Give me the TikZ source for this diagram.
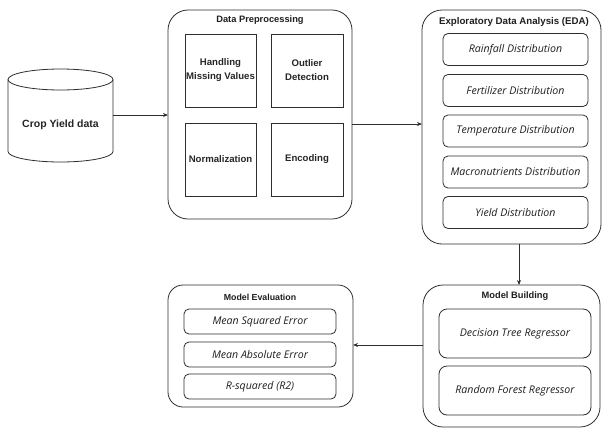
\documentclass[tikz,border=0pt]{standalone}
\usepackage{fontspec}
\usetikzlibrary{arrows.meta,calc}
\newfontfamily\headfont{Liberation Sans}
\newfontfamily\itemfont{Open Sans}
\definecolor{edge}{HTML}{2E2E2E}

\begin{document}
\begin{tikzpicture}[x=1pt,y=-1pt,
  every node/.style={inner sep=0pt, outer sep=0pt},
  container/.style={draw=edge, line width=0.8pt, rounded corners=20pt, fill=white},
  panel/.style={draw=edge, line width=0.8pt, rounded corners=15pt, fill=white},
  title/.style={font=\headfont\bfseries\fontsize{9.3}{11}\selectfont, text=black!88},
  sqbox/.style={draw=edge, line width=0.8pt, minimum width=72pt, minimum height=73pt,
    align=center, font=\headfont\bfseries\fontsize{9.6}{14}\selectfont, text=black!85},
  itembox/.style={draw=edge, line width=0.8pt, rounded corners=5pt,
    font=\itemfont\itshape\fontsize{10.6}{12}\selectfont, text=black!88},
  arr/.style={draw=edge, line width=0.8pt, -{Stealth[length=5pt,width=4pt]}}
]
\useasboundingbox (0,0) rectangle (603,429);

% data source cylinder
\node (db) at (60.5,115) [minimum width=105pt, minimum height=93pt] {};
\draw[draw=edge, line width=0.8pt, fill=white]
  (8,79.5) -- (8,151.5) arc[start angle=180, end angle=360, x radius=52.5, y radius=-10.5]
  -- (113,79.5) arc[start angle=0, end angle=180, x radius=52.5, y radius=-10.5] -- cycle;
\draw[draw=edge, line width=0.8pt]
  (8,79.5) arc[start angle=180, end angle=360, x radius=52.5, y radius=-10.5];
\node at (60.5,125) [font=\headfont\bfseries\fontsize{10.5}{12}\selectfont, text=black!85] {Crop Yield data};

% data preprocessing
\node (dp) at (260,114.5) [container, minimum width=184pt, minimum height=209pt] {};
\node (dpt) at (260,20) [title] {Data Preprocessing};
\node (hmv) at (220.5,70.5) [sqbox, minimum width=71pt] {Handling\\Missing Values};
\node (od)  at (307,70.5)   [sqbox] {Outlier\\Detection};
\node (nm)  at (220.5,159.5) [sqbox, minimum width=71pt] {Normalization};
\node (en)  at (307,159.5)   [sqbox] {Encoding};

% exploratory data analysis
\node (eda) at (511.5,127) [container, minimum width=179pt, minimum height=234pt] {};
\node (edat) at (514,22) [title, font=\headfont\bfseries\fontsize{9.7}{11}\selectfont] {Exploratory Data Analysis (EDA)};
\foreach \n/\yy/\t in {r/49.5/Rainfall Distribution, f/90.5/Fertilizer Distribution,
    t/131/Temperature Distribution, m/172/Macronutrients Distribution, y/212.5/Yield Distribution}
  \node (eda\n) at (515.5,\yy) [itembox, minimum width=145pt, minimum height=32pt] {\t};

% model building
\node (mb) at (511.5,356) [container, minimum width=177pt, minimum height=142pt] {};
\node (mbt) at (515,296) [title] {Model Building};
\node (dtr) at (515,333.5) [itembox, minimum width=152pt, minimum height=49pt, rounded corners=8pt] {Decision Tree Regressor};
\node (rfr) at (515,390.5) [itembox, minimum width=152pt, minimum height=49pt, rounded corners=8pt] {Random Forest Regressor};

% model evaluation
\node (me) at (260.5,346) [panel, minimum width=185pt, minimum height=122pt] {};
\node (met) at (260,297) [title, font=\headfont\bfseries\fontsize{8.8}{11}\selectfont] {Model Evaluation};
\node (mse) at (260,321.5) [itembox, minimum width=152pt, minimum height=25pt] {Mean Squared Error};
\node (mae) at (260,354.5) [itembox, minimum width=152pt, minimum height=25pt] {Mean Absolute Error};
\node (r2)  at (260,386.5) [itembox, minimum width=152pt, minimum height=25pt] {R-squared (R2)};

% flow
\draw[arr] (db.east) -- (dp.west |- db.east);
\draw[arr] (dp.east |- 0,124) -- (eda.west |- 0,124);
\draw[arr] (eda.south -| 519,0) -- (mb.north -| 519,0);
\draw[arr] (mb.west |- 0,345) -- (me.east |- 0,345);
\end{tikzpicture}
\end{document}
